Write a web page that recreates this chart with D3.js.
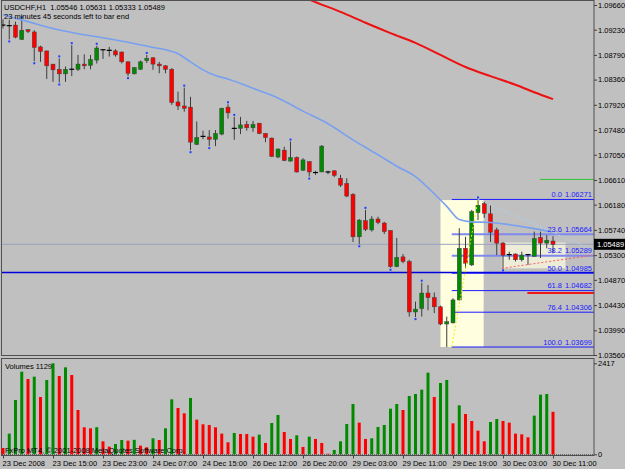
<!DOCTYPE html>
<html>
<head>
<meta charset="utf-8">
<script src="https://cdn.jsdelivr.net/npm/d3@7"></script>
<style>
  html, body { margin: 0; padding: 0; background: #c0c0c0; }
  svg { display: block; font-family: "Liberation Sans", Arial, sans-serif; }
</style>
</head>
<body>
<div id="chart"></div>
<script>
// ---- data ----
const titleText = 'USDCHF,H1  1.05546 1.05631 1.05333 1.05489';
const timerText = '23 minutes 45 seconds left to bar end';

const open = [1.0931, 1.0931, 1.0931, 1.0906, 1.0923, 1.0919, 1.0893, 1.0886, 1.0863, 1.0854,
  1.0846, 1.0852, 1.0854, 1.0863, 1.0861, 1.0870, 1.0888, 1.0888, 1.0886, 1.0884,
  1.0867, 1.0846, 1.0854, 1.0869, 1.0874, 1.0863, 1.0860, 1.0854, 1.0797, 1.0790,
  1.0788, 1.0723, 1.0736, 1.0736, 1.0732, 1.0741, 1.0788, 1.0752, 1.0751, 1.0758,
  1.0752, 1.0760, 1.0742, 1.0734, 1.0701, 1.0713, 1.0694, 1.0700, 1.0678, 1.0693,
  1.0674, 1.0675, 1.0673, 1.0677, 1.0664, 1.0655, 1.0636, 1.0562, 1.0590, 1.0574,
  1.0593, 1.0586, 1.0573, 1.0510, 1.0527, 1.0519, 1.0431, 1.0437, 1.0464, 1.0456,
  1.0440, 1.0410, 1.0412, 1.0452, 1.0542, 1.0513, 1.0604, 1.0620, 1.0602, 1.0574,
  1.0551, 1.0533, 1.0532, 1.0522, 1.0530, 1.0528, 1.0561, 1.0551, 1.05546];
const high = [1.0941, 1.0940, 1.0937, 1.0941, 1.0924, 1.0922, 1.0895, 1.0886, 1.0863, 1.0873,
  1.0859, 1.0896, 1.0879, 1.0880, 1.0879, 1.0895, 1.0889, 1.0893, 1.0889, 1.0885,
  1.0868, 1.0858, 1.0869, 1.0879, 1.0875, 1.0867, 1.0861, 1.0856, 1.0815, 1.0822,
  1.0806, 1.0763, 1.0747, 1.0748, 1.0748, 1.0787, 1.0793, 1.0771, 1.0771, 1.0764,
  1.0764, 1.0760, 1.0743, 1.0735, 1.0716, 1.0719, 1.0728, 1.0702, 1.0699, 1.0694,
  1.0677, 1.0722, 1.0677, 1.0678, 1.0670, 1.0664, 1.0638, 1.0593, 1.0609, 1.0598,
  1.0597, 1.0588, 1.0573, 1.0560, 1.0532, 1.0522, 1.0449, 1.0482, 1.0478, 1.0465,
  1.0442, 1.0423, 1.0455, 1.0577, 1.0562, 1.0609, 1.06271, 1.0623, 1.0617, 1.0578,
  1.0553, 1.0536, 1.0533, 1.0536, 1.0531, 1.0571, 1.0571, 1.0565, 1.05631];
const low = [1.0925, 1.0906, 1.0908, 1.0905, 1.0917, 1.0868, 1.0867, 1.0837, 1.0832, 1.0831,
  1.0832, 1.0842, 1.0851, 1.0854, 1.0854, 1.0864, 1.0872, 1.0876, 1.0876, 1.0864,
  1.0842, 1.0845, 1.0853, 1.0865, 1.0853, 1.0847, 1.0847, 1.0792, 1.0783, 1.0780,
  1.0713, 1.0722, 1.0732, 1.0720, 1.0720, 1.0739, 1.0768, 1.0731, 1.0741, 1.0747,
  1.0745, 1.0741, 1.0727, 1.0701, 1.0699, 1.0694, 1.0693, 1.0674, 1.0677, 1.0667,
  1.0670, 1.0675, 1.0671, 1.0666, 1.0649, 1.0631, 1.0553, 1.0549, 1.0572, 1.0571,
  1.0584, 1.0567, 1.0508, 1.0509, 1.0516, 1.0423, 1.0422, 1.0423, 1.0434, 1.0429,
  1.0408, 1.03699, 1.0411, 1.0451, 1.0507, 1.0511, 1.0591, 1.0595, 1.0553, 1.0530,
  1.0507, 1.0522, 1.0519, 1.0519, 1.0513, 1.0527, 1.0525, 1.0542, 1.05333];
const close = [1.0931, 1.0930, 1.0910, 1.0922, 1.0920, 1.0892, 1.0885, 1.0860, 1.0853, 1.0846,
  1.0854, 1.0854, 1.0863, 1.0860, 1.0871, 1.0891, 1.0888, 1.0887, 1.0879, 1.0867,
  1.0847, 1.0857, 1.0867, 1.0873, 1.0863, 1.0860, 1.0854, 1.0796, 1.0790, 1.0786,
  1.0727, 1.0735, 1.0737, 1.0732, 1.0742, 1.0786, 1.0778, 1.0751, 1.0757, 1.0752,
  1.0758, 1.0742, 1.0735, 1.0702, 1.0715, 1.0695, 1.0700, 1.0675, 1.0696, 1.0675,
  1.0674, 1.0720, 1.0675, 1.0669, 1.0652, 1.0633, 1.0562, 1.0591, 1.0575, 1.0593,
  1.0587, 1.0571, 1.0510, 1.0526, 1.0519, 1.0431, 1.0436, 1.0464, 1.0456, 1.0440,
  1.0410, 1.0414, 1.0452, 1.0542, 1.0516, 1.0606, 1.0617, 1.0603, 1.0570, 1.0551,
  1.0530, 1.0531, 1.0522, 1.0530, 1.0531, 1.0559, 1.0551, 1.0556, 1.05489];
const volume = [168, 549, 1443, 2195, 2000, 2062, 1522, 1974, 2417, 2080,
  2310, 2106, 1177, 717, 690, 720, 345, 204, 274, 380,
  363, 385, 230, 186, 425, 380, 690, 1460, 1230, 1089,
  1496, 920, 797, 779, 717, 549, 319, 566, 540, 538,
  469, 522, 301, 832, 1044, 593, 407, 504, 195, 469,
  407, 301, 15, 115, 345, 805, 1336, 841, 407, 425,
  726, 779, 1212, 1336, 1177, 1549, 1602, 1717, 2168, 1522,
  1894, 1974, 823, 1301, 1071, 885, 628, 345, 858, 938,
  885, 841, 549, 531, 451, 1027, 1584, 1602, 1129];

// fractal marks (bar indices)
const fractalUp = [3, 9, 11, 15, 23, 29, 36, 37, 46, 58, 67, 76];
const fractalDown = [1, 5, 9, 20, 30, 33, 49, 57, 62, 66, 80];

// moving averages (bar index, price)
const maBlueBar = [0, 4, 8, 12, 16, 20, 24, 26, 28, 30, 32, 34, 36, 40, 44, 48, 52, 56, 60, 63, 66, 69, 71, 73, 75, 78, 81, 84, 88];
const maBlueVal = [1.0949, 1.0937, 1.0925, 1.0916, 1.0909, 1.0901, 1.0892, 1.0888, 1.0881, 1.0867, 1.0853, 1.0843, 1.0837,
  1.0821, 1.0804, 1.0781, 1.0759, 1.0731, 1.0705, 1.0685, 1.0667, 1.0637, 1.0615, 1.0592, 1.0588, 1.0587, 1.0583, 1.0578, 1.0570];
const maRedBar = [48, 50, 54, 58, 62, 66, 70, 74, 78, 82, 85, 88];
const maRedVal = [1.0980, 1.0971, 1.0954, 1.0935, 1.0917, 1.0900, 1.0879, 1.0858, 1.0842, 1.0827, 1.0814, 1.0802];

// fibonacci retracement
const fibLevels = [0.0, 23.6, 38.2, 50.0, 61.8, 76.4, 100.0];
const fibPrices = [1.06271, 1.05664, 1.05289, 1.04985, 1.04682, 1.04306, 1.03699];
const fibFromBar = 71.8;
const fibHighBar = 76;

const priceTicks = [1.0966, 1.0923, 1.0879, 1.0836, 1.0792, 1.0748, 1.0705, 1.0661, 1.0618, 1.0574, 1.0530, 1.0487, 1.0443, 1.0399, 1.0356];
const timeTickBar = [0, 8, 16, 24, 32, 40, 48, 56, 64, 72, 80, 88];
const timeLabels = ['23 Dec 2008', '23 Dec 15:00', '23 Dec 23:00', '24 Dec 07:00', '24 Dec 15:00', '26 Dec 12:00',
  '26 Dec 20:00', '29 Dec 03:00', '29 Dec 11:00', '29 Dec 19:00', '30 Dec 03:00', '30 Dec 11:00'];

const bidPrice = 1.05489;
const levelLine = 1.0500;
const volMax = 2417;

// ---- layout ----
const W = 625, H = 469;
const right = 594;
const svg = d3.select('#chart').append('svg').attr('width', W).attr('height', H);
svg.append('rect').attr('width', W).attr('height', H).attr('fill', '#c0c0c0');

const x = d3.scaleLinear().domain([0, 88]).range([3, 553]);
const y = d3.scaleLinear().domain([1.0356, 1.0966]).range([355, 5]);
const yv = d3.scaleLinear().domain([0, volMax]).range([454.3, 363.3]);
const xEnd = x.invert(right - 1);

svg.append('clipPath').attr('id', 'clipMain')
  .append('rect').attr('x', 2).attr('y', 1).attr('width', right - 2).attr('height', 354);

const plot = svg.append('g').attr('clip-path', 'url(#clipMain)');

// background rectangles
plot.append('rect')
  .attr('x', x(70)).attr('width', x(76.9) - x(70))
  .attr('y', y(1.0626)).attr('height', y(1.0370) - y(1.0626))
  .attr('fill', '#ffffe0');
plot.append('rect')
  .attr('x', x(79.8)).attr('width', x(90) - x(79.8))
  .attr('y', y(1.0552)).attr('height', y(1.0507) - y(1.0552))
  .attr('fill', '#ececd8');

// full width lines
plot.append('line').attr('x1', 2).attr('x2', right)
  .attr('y1', y(bidPrice)).attr('y2', y(bidPrice))
  .attr('stroke', '#98a2c0').attr('stroke-width', 1);
plot.append('line').attr('x1', 2).attr('x2', right)
  .attr('y1', y(levelLine)).attr('y2', y(levelLine))
  .attr('stroke', '#0000d8').attr('stroke-width', 1.5);

// fib level lines
fibLevels.forEach((lv, k) => {
  const thick = lv === 23.6 || lv === 38.2;
  plot.append('line')
    .attr('x1', x(fibFromBar)).attr('x2', right)
    .attr('y1', y(fibPrices[k])).attr('y2', y(fibPrices[k]))
    .attr('stroke', thick ? '#7f88ee' : '#1a1aff')
    .attr('stroke-width', thick ? 2 : 1);
});

// short horizontal lines on the right
plot.append('line').attr('x1', x(85.9)).attr('x2', right)
  .attr('y1', y(1.0662)).attr('y2', y(1.0662))
  .attr('stroke', '#30c030').attr('stroke-width', 1);
plot.append('line').attr('x1', x(83.9)).attr('x2', right)
  .attr('y1', y(1.0464)).attr('y2', y(1.0464))
  .attr('stroke', '#f01818').attr('stroke-width', 2);

// candles
const bars = d3.range(open.length).map(i => ({ i, o: open[i], h: high[i], l: low[i], c: close[i] }));
const cg = plot.append('g');
cg.selectAll('line.wick').data(bars).join('line')
  .attr('class', 'wick')
  .attr('x1', d => x(d.i)).attr('x2', d => x(d.i))
  .attr('y1', d => y(d.h)).attr('y2', d => y(d.l))
  .attr('stroke', '#3c3c3c').attr('stroke-width', 1);
cg.selectAll('rect.body').data(bars.filter(d => Math.abs(y(d.o) - y(d.c)) >= 1.2)).join('rect')
  .attr('class', 'body')
  .attr('x', d => x(d.i) - 2).attr('width', 4)
  .attr('y', d => y(Math.max(d.o, d.c)))
  .attr('height', d => Math.abs(y(d.o) - y(d.c)))
  .attr('fill', d => d.c > d.o ? '#008a00' : '#ff0000')
  .attr('stroke', '#404040').attr('stroke-width', 0.5);
cg.selectAll('line.doji').data(bars.filter(d => Math.abs(y(d.o) - y(d.c)) < 1.2)).join('line')
  .attr('class', 'doji')
  .attr('x1', d => x(d.i) - 2.5).attr('x2', d => x(d.i) + 2.5)
  .attr('y1', d => y(d.c)).attr('y2', d => y(d.c))
  .attr('stroke', '#000').attr('stroke-width', 1.2);

// fractal marks
cg.selectAll('rect.fu').data(fractalUp).join('rect')
  .attr('x', d => x(d) - 1).attr('y', d => y(high[d]) - 3)
  .attr('width', 2).attr('height', 2).attr('fill', '#2040ff');
cg.selectAll('rect.fd').data(fractalDown).join('rect')
  .attr('x', d => x(d) - 1).attr('y', d => y(low[d]) + 1)
  .attr('width', 2).attr('height', 2).attr('fill', '#2040ff');

// moving averages
const maLine = d3.line().x(d => x(d[0])).y(d => y(d[1])).curve(d3.curveMonotoneX);
plot.append('path').datum(d3.zip(maBlueBar, maBlueVal))
  .attr('d', maLine).attr('fill', 'none')
  .attr('stroke', '#78a0f0').attr('stroke-width', 1.6);
plot.append('path').datum(d3.zip(maRedBar, maRedVal))
  .attr('d', maLine).attr('fill', 'none')
  .attr('stroke', '#ee1010').attr('stroke-width', 2);

// trend lines (dotted)
const seg = (b1, p1, b2, p2, col) => plot.append('line')
  .attr('x1', x(b1)).attr('y1', y(p1)).attr('x2', x(b2)).attr('y2', y(p2))
  .attr('stroke', col).attr('stroke-width', 1).attr('stroke-dasharray', '2,2');
seg(fibFromBar, fibPrices[6], fibHighBar, fibPrices[0], '#f0f000');
seg(fibHighBar, fibPrices[0], xEnd, 1.0539, '#a8d4f4');
seg(79.8, 1.0507, xEnd, 1.0530, '#ff5a5a');

// fib labels
const fibText = plot.append('g').attr('font-size', 7.5).attr('fill', '#1a1aff');
fibLevels.forEach((lv, k) => {
  const ty = y(fibPrices[k]) - 2.5;
  fibText.append('text').attr('x', 562).attr('y', ty).attr('text-anchor', 'end').text(lv.toFixed(1));
  fibText.append('text').attr('x', 592).attr('y', ty).attr('text-anchor', 'end').text(fibPrices[k].toFixed(5));
});

// panel frames
svg.append('rect').attr('x', 1.5).attr('y', 0.5).attr('width', right - 1.5).attr('height', 355)
  .attr('fill', 'none').attr('stroke', '#505050');
svg.append('rect').attr('x', 1.5).attr('y', 358.5).attr('width', right - 1.5).attr('height', 97)
  .attr('fill', 'none').attr('stroke', '#505050');

// price axis
const pAxis = svg.append('g').attr('transform', `translate(${right},0)`)
  .call(d3.axisRight(y).tickValues(priceTicks).tickFormat(d3.format('.5f')).tickSize(3).tickPadding(1));
pAxis.select('.domain').remove();
pAxis.selectAll('text').attr('font-size', 7.5).attr('font-family', '"Liberation Sans", Arial, sans-serif').attr('fill', '#000');
pAxis.selectAll('line').attr('stroke', '#404040');

// bid label
svg.append('rect').attr('x', right).attr('y', y(bidPrice) - 5.5).attr('width', W - right).attr('height', 11).attr('fill', '#000');
svg.append('text').attr('x', right + 3).attr('y', y(bidPrice) + 3)
  .attr('font-size', 7.5).attr('fill', '#fff').text(bidPrice.toFixed(5));

// title texts
svg.append('text').attr('x', 4).attr('y', 9.5).attr('font-size', 7.5).style('white-space', 'pre').text(titleText);
svg.append('text').attr('x', 4).attr('y', 18.5).attr('font-size', 7.5).text(timerText);

// volumes
const vg = svg.append('g');
vg.append('line').attr('x1', 2).attr('x2', right).attr('y1', yv(0) + 0.5).attr('y2', yv(0) + 0.5)
  .attr('stroke', '#404040').attr('stroke-dasharray', '1,1');
vg.selectAll('rect').data(volume).join('rect')
  .attr('x', (d, i) => x(i) - 1.5).attr('width', 3)
  .attr('y', d => yv(d)).attr('height', d => yv(0) - yv(d))
  .attr('fill', (d, i) => i > 0 && d > volume[i - 1] ? '#008a00' : '#ff0000');
vg.append('text').attr('x', 5).attr('y', 369).attr('font-size', 7.5).text('Volumes ' + volume[volume.length - 1]);
vg.append('text').attr('x', 5).attr('y', 452.5).attr('font-size', 7.5).attr('fill', '#000')
  .text('FxPro MT4, \u00a9 2001-2008 MetaQuotes Software Corp.');

const vAxis = svg.append('g').attr('transform', `translate(${right},0)`)
  .call(d3.axisRight(yv).tickValues([0, volMax]).tickFormat(d3.format('d')).tickSize(3).tickPadding(1));
vAxis.select('.domain').remove();
vAxis.selectAll('text').attr('font-size', 7.5).attr('font-family', '"Liberation Sans", Arial, sans-serif').attr('fill', '#000');
vAxis.selectAll('line').attr('stroke', '#404040');

// time axis
const tAxis = svg.append('g').attr('transform', 'translate(0,455.5)')
  .call(d3.axisBottom(x).tickValues(timeTickBar).tickFormat((d, k) => timeLabels[k]).tickSize(3).tickPadding(2));
tAxis.select('.domain').remove();
tAxis.selectAll('text').attr('text-anchor', 'start').attr('dx', -1)
  .attr('font-size', 7.5).attr('font-family', '"Liberation Sans", Arial, sans-serif').attr('fill', '#000');
tAxis.selectAll('line').attr('stroke', '#404040');
</script>
</body>
</html>
